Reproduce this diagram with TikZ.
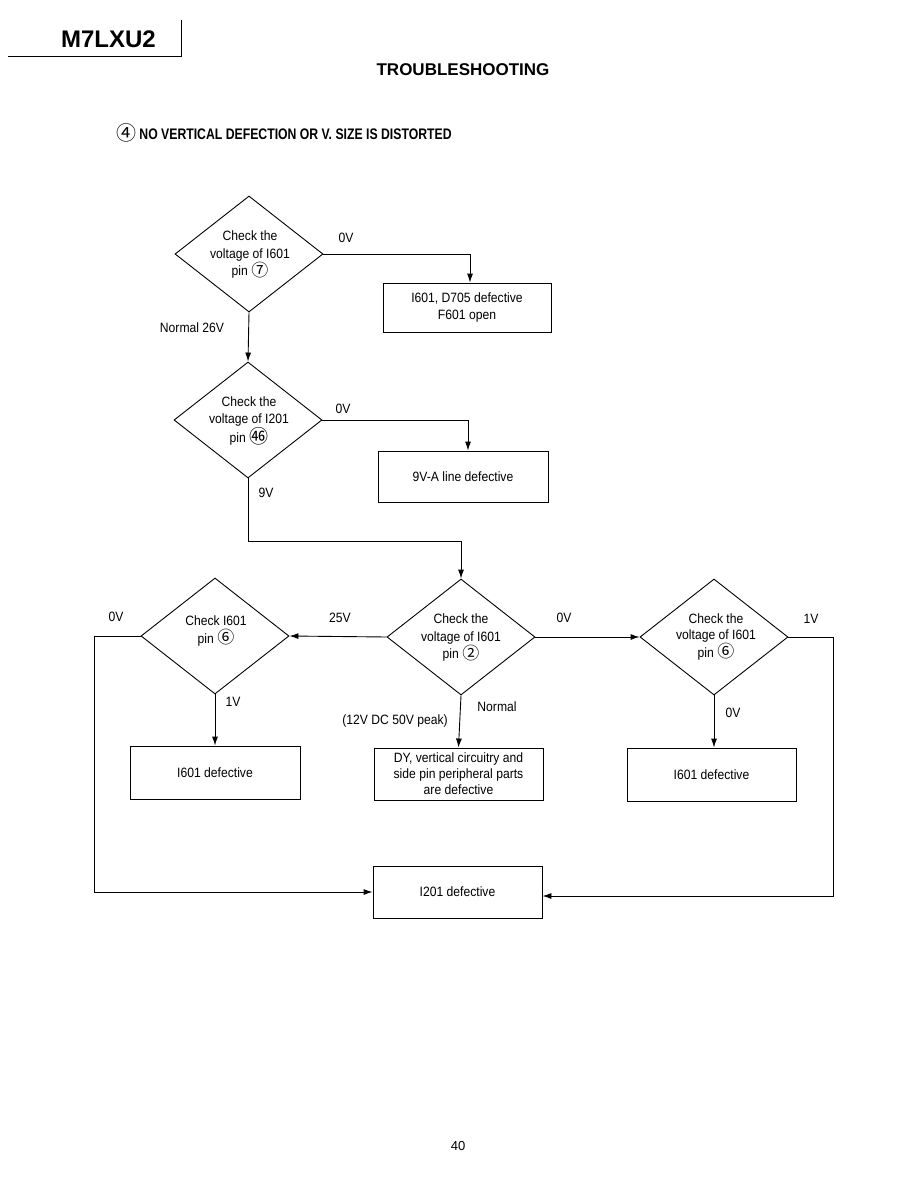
\documentclass[tikz,border=0pt]{standalone}
\usepackage{fontspec}
\setmainfont{Liberation Sans}
\newfontfamily\narrowfont[FakeStretch=0.9]{Liberation Sans}
\newfontfamily\narrowbold[FakeStretch=0.8]{Liberation Sans Bold}
\newfontfamily\cjkfont{Noto Sans CJK SC}
\usetikzlibrary{shapes.geometric,arrows.meta}
\newcommand\cnum[2][17]{\raisebox{-0.5pt}{\cjkfont\fontsize{#1}{13.5}\selectfont #2}}
\begin{document}
\begin{tikzpicture}[x=1pt,y=-1pt,
  line width=0.9pt,
  txtfont/.style={font=\narrowfont\fontsize{13.5}{17.5}\selectfont},
  dia/.style={draw,diamond,minimum width=148pt,minimum height=116pt,inner sep=0pt},
  dtxt/.style={txtfont,align=center,inner sep=0pt},
  box/.style={draw,txtfont,align=center,minimum width=169pt,minimum height=52pt,inner sep=1pt},
  lbl/.style={txtfont,inner sep=0pt},
  arr/.style={-{Latex[length=9pt,width=6pt]}}]
\useasboundingbox (0,0) rectangle (918,1188);
% header
\node[font=\bfseries\fontsize{24}{24}\selectfont,inner sep=0pt] (model) at (108.5,39) {M7LXU2};
\draw (8,56) -- (181,56) -- (181,20);
\node[font=\bfseries\fontsize{17}{17}\selectfont,inner sep=0pt] (title) at (463,70) {TROUBLESHOOTING};
\node[anchor=west,inner sep=0pt] (sub) at (116,132.5) {\raisebox{-1pt}{\cjkfont\fontsize{20}{16}\selectfont ④}\hspace{3pt}{\narrowbold\fontsize{15.3}{16}\selectfont NO VERTICAL DEFECTION OR V. SIZE IS DISTORTED}};
% diamonds
\node[dia] (d1) at (249,254) {};
\node[dtxt] (d1t) at (250,255) {Check the\\voltage of I601\\pin \cnum{⑦}};
\node[dia] (d2) at (248,420) {};
\node[dtxt] (d2t) at (249,421) {Check the\\voltage of I201\\pin \cnum[19]{㊻}};
\node[dia] (d3) at (461,637) {};
\node[dtxt] (d3t) at (461,638) {Check the\\voltage of I601\\pin \cnum{②}};
\node[dia] (dl) at (215,636) {};
\node[dtxt] (dlt) at (216,631) {Check I601\\pin \cnum{⑥}};
\node[dia] (dr) at (714,637) {};
\node[dtxt,font=\narrowfont\fontsize{13.5}{15.5}\selectfont] (drt) at (716,637) {Check the\\voltage of I601\\pin \cnum{⑥}};
% boxes
\node[box,minimum width=168pt,minimum height=49pt] (b1) at (467,307.5) {I601, D705 defective\\F601 open};
\node[box,minimum width=170pt,minimum height=51pt] (b2) at (463,476.5) {9V-A line defective};
\node[box,minimum width=170pt,minimum height=53pt] (bl) at (215,772.5) {I601 defective};
\node[box,font=\narrowfont\fontsize{13.5}{16}\selectfont] (bc) at (458.5,774) {DY, vertical circuitry and\\side pin peripheral parts\\are defective};
\node[box,minimum height=53pt] (br) at (711.5,774.5) {I601 defective};
\node[box] (b5) at (457.5,892) {I201 defective};
% labels
\node[lbl] (l1) at (346,238) {0V};
\node[lbl] (l2) at (192,328) {Normal 26V};
\node[lbl] (l3) at (343,409) {0V};
\node[lbl] (l4) at (266,493) {9V};
\node[lbl] (l5) at (340,618) {25V};
\node[lbl] (l6) at (564,618) {0V};
\node[lbl] (l7) at (116,617) {0V};
\node[lbl] (l8) at (811,619) {1V};
\node[lbl] (l9) at (233,702) {1V};
\node[lbl] (l10) at (497,707) {Normal};
\node[lbl] (l11) at (395,721) {(12V DC 50V peak)};
\node[lbl] (l12) at (733,713) {0V};
% connectors
\coordinate (c1) at (470,254);
\coordinate (c2) at (468,420);
\coordinate (cl) at (94,636);
\coordinate (cr) at (833,637);
\draw[arr] (d1.east) -- (c1) -- (c1 |- b1.north);
\draw[arr] (d1.south) -- (d2.north);
\draw[arr] (d2.east) -- (c2) -- (c2 |- b2.north);
\draw[arr] (d2.south) -- ++(0,63) -| (d3.north);
\draw[arr] (d3.west) -- (dl.east);
\draw[arr] (d3.east) -- (dr.west);
\draw[arr] (dl.south) -- (bl.north);
\draw[arr] (d3.south) -- (bc.north);
\draw[arr] (dr.south) -- (dr.south |- br.north);
\draw[arr] (dl.west) -- (cl) |- (b5.west);
\draw[arr] (dr.east) -- (cr) |- ([yshift=-4pt]b5.east);
% page number
\node[font=\fontsize{13}{13}\selectfont,inner sep=0pt] (page) at (458,1146) {40};
\end{tikzpicture}
\end{document}
